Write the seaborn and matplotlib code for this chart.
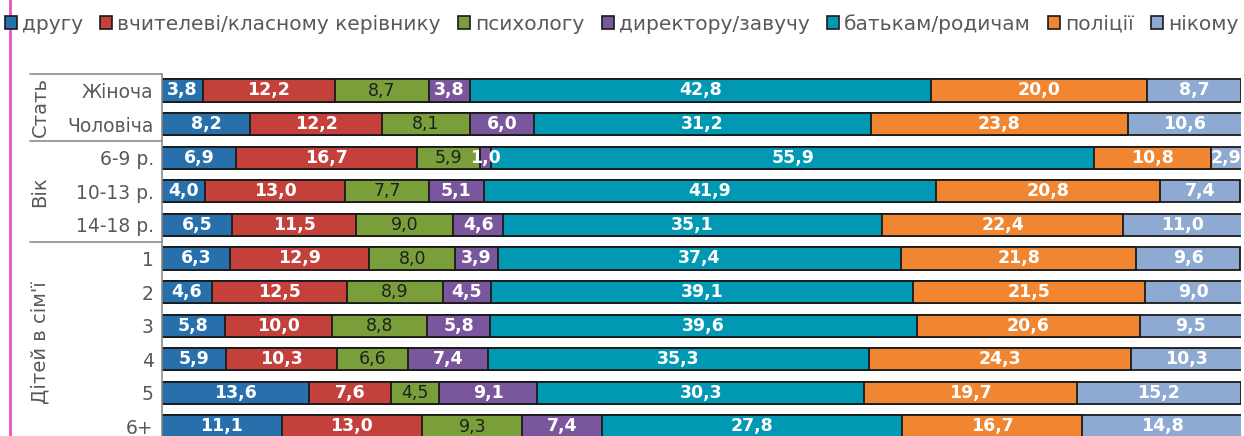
import numpy as np
import pandas as pd
import seaborn as sns
import matplotlib.pyplot as plt
from matplotlib.patches import Patch
from matplotlib.lines import Line2D

# --- data -------------------------------------------------------------
rows = ["Жіноча", "Чоловіча", "6-9 р.", "10-13 р.", "14-18 р.",
        "1", "2", "3", "4", "5", "6+"]
groups = [("Стать", 0, 1), ("Вік", 2, 4), ("Дітей в сім'ї", 5, 10)]
answers = ["другу", "вчителеві/класному керівнику", "психологу",
           "директору/завучу", "батькам/родичам", "поліції", "нікому"]

drugu = [3.8, 8.2, 6.9, 4.0, 6.5, 6.3, 4.6, 5.8, 5.9, 13.6, 11.1]
vchytel = [12.2, 12.2, 16.7, 13.0, 11.5, 12.9, 12.5, 10.0, 10.3, 7.6, 13.0]
psykholog = [8.7, 8.1, 5.9, 7.7, 9.0, 8.0, 8.9, 8.8, 6.6, 4.5, 9.3]
dyrektor = [3.8, 6.0, 1.0, 5.1, 4.6, 3.9, 4.5, 5.8, 7.4, 9.1, 7.4]
batky = [42.8, 31.2, 55.9, 41.9, 35.1, 37.4, 39.1, 39.6, 35.3, 30.3, 27.8]
politsiia = [20.0, 23.8, 10.8, 20.8, 22.4, 21.8, 21.5, 20.6, 24.3, 19.7, 16.7]
nikomu = [8.7, 10.6, 2.9, 7.4, 11.0, 9.6, 9.0, 9.5, 10.3, 15.2, 14.8]

colors = ["#2870AB", "#C4403A", "#7A9E3A", "#7A569C",
          "#0098B2", "#F08632", "#8EAAD2"]

df = pd.DataFrame(dict(zip(answers, [drugu, vchytel, psykholog, dyrektor,
                                     batky, politsiia, nikomu])), index=rows)
cum = df.cumsum(axis=1)

# --- plot -------------------------------------------------------------
sns.set_style("white")
plt.rcParams["font.family"] = ["DejaVu Sans"]

fig = plt.figure(figsize=(12.44, 4.36), dpi=100)
W, H = 1244, 436
top_px, bot_px = 73.7, 443.3
ax = fig.add_axes([162 / W, 1 - bot_px / H, (1241 - 162) / W, (bot_px - top_px) / H])

# stacked bars: draw cumulative totals from the longest to the shortest
for k in range(len(answers) - 1, -1, -1):
    sns.barplot(x=cum[answers[k]].values, y=rows, orient="h", color=colors[k],
                saturation=1, edgecolor="#1a1a1a", linewidth=1.3, width=0.655,
                ax=ax)

for i, r in enumerate(rows):
    for k, a in enumerate(answers):
        v = df.loc[r, a]
        xc = cum.loc[r, a] - v / 2
        txt = f"{v:.1f}".replace(".", ",")
        if k == 2:
            ax.text(xc, i, txt, ha="center", va="center", fontsize=12.5,
                    color="#1f1f1f")
        else:
            ax.text(xc, i, txt, ha="center", va="center", fontsize=12.5,
                    color="white", fontweight="bold")

ax.set_xlim(0, 100)
ax.set_ylim(len(rows) - 0.5, -0.5)
ax.set_xlabel("")
ax.set_ylabel("")
ax.set_xticks([])
ax.tick_params(axis="y", length=0, pad=6, labelsize=13.5, labelcolor="#595959")
for s in ["top", "right", "bottom"]:
    ax.spines[s].set_visible(False)
ax.spines["left"].set_color("#8c8c8c")
ax.spines["left"].set_linewidth(1.2)

# group separators and group labels on the left
x0 = (30 - 162) / (1241 - 162)
xg = (40 - 162) / (1241 - 162)
ytr = ax.get_yaxis_transform()
for y in [-0.5, 1.5, 4.5]:
    ax.plot([x0, 0], [y, y], transform=ytr, color="#8c8c8c", lw=1.2,
            clip_on=False)
for name, a, b in groups:
    ax.text(xg, (a + b) / 2, name, transform=ytr, rotation=90, ha="center",
            va="center", fontsize=14, color="#595959")

# legend
handles = [Patch(facecolor=c, edgecolor="#1a1a1a", linewidth=1.2) for c in colors]
fig.legend(handles, answers, loc="center left", bbox_to_anchor=(5 / W, 1 - 24 / H),
           ncol=7, frameon=False, fontsize=14.5, labelcolor="#595959",
           handlelength=0.6, handleheight=0.6, handletextpad=0.25,
           columnspacing=0.85, borderpad=0, borderaxespad=0)

# pink marker line at the left edge
fig.add_artist(Line2D([9.5 / W, 9.5 / W], [0, 1], color="#F04FC8", lw=2))

fig.savefig("out.png", dpi=100)
